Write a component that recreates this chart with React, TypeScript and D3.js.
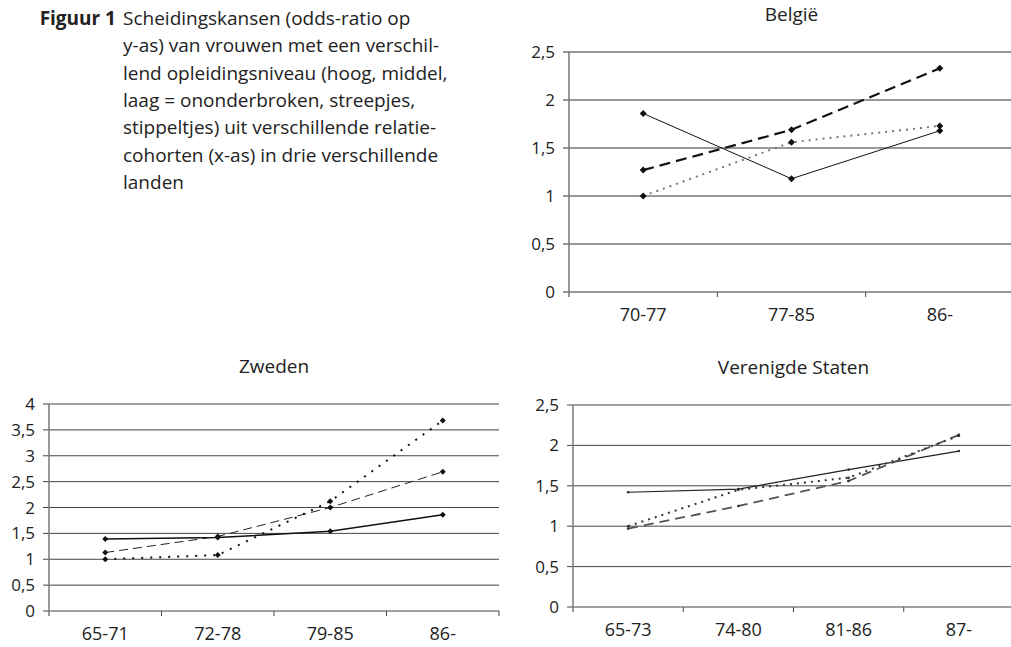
import React from 'react';
import * as d3 from 'd3';

// België
const belgieCats = ['70-77', '77-85', '86-'];
const belgieHoog = [1.86, 1.18, 1.68];
const belgieMiddel = [1.27, 1.69, 2.33];
const belgieLaag = [1.0, 1.56, 1.73];
const belgieTicks = [0, 0.5, 1, 1.5, 2, 2.5];

// Zweden
const zwedenCats = ['65-71', '72-78', '79-85', '86-'];
const zwedenHoog = [1.39, 1.42, 1.54, 1.86];
const zwedenMiddel = [1.13, 1.44, 2.0, 2.69];
const zwedenLaag = [1.0, 1.08, 2.12, 3.68];
const zwedenTicks = [0, 0.5, 1, 1.5, 2, 2.5, 3, 3.5, 4];

// Verenigde Staten
const vsCats = ['65-73', '74-80', '81-86', '87-'];
const vsHoog = [1.42, 1.46, 1.7, 1.93];
const vsMiddel = [0.97, 1.25, 1.56, 2.13];
const vsLaag = [1.0, 1.45, 1.6, 2.12];
const vsTicks = [0, 0.5, 1, 1.5, 2, 2.5];

const captionBold = 'Figuur 1';
const captionLines = [
  'Scheidingskansen (odds-ratio op',
  'y-as) van vrouwen met een verschil-',
  'lend opleidingsniveau (hoog, middel,',
  'laag = ononderbroken, streepjes,',
  'stippeltjes) uit verschillende relatie-',
  'cohorten (x-as) in drie verschillende',
  'landen',
];

const FONT = '"Open Sans", sans-serif';
const fmt = (v: number) => String(v).replace('.', ',');

type LineStyle = { stroke: string; width: number; dash?: string };

type PanelProps = {
  title: string;
  cats: string[];
  series: number[][];
  styles: LineStyle[];
  ticks: number[];
  x0: number;
  x1: number;
  y0: number;
  y1: number;
  gridEnd: number;
  marker: 'diamond' | 'dot';
  markerSize: number;
  gridColor: string;
};

const Panel = (p: PanelProps) => {
  const x = d3.scaleBand<string>().domain(p.cats).range([p.x0, p.x1]).padding(0);
  const y = d3.scaleLinear().domain([0, d3.max(p.ticks) as number]).range([p.y1, p.y0]);
  const line = d3
    .line<number>()
    .x((_, i) => (x(p.cats[i]) as number) + x.bandwidth() / 2)
    .y((d) => y(d));
  const cx = (p.x0 + p.x1) / 2;
  return (
    <g>
      <text x={cx} y={p.y0 - 31} textAnchor="middle" fontSize={19} fill="#222" fontFamily={FONT}>
        {p.title}
      </text>
      {p.ticks.map((t) => (
        <g key={t}>
          <line x1={p.x0 - 6} x2={p.gridEnd} y1={y(t)} y2={y(t)} stroke={p.gridColor} strokeWidth={1} />
          <text x={p.x0 - 14} y={y(t) + 6} textAnchor="end" fontSize={17} fill="#222" fontFamily={FONT}>
            {fmt(t)}
          </text>
        </g>
      ))}
      <line x1={p.x0} x2={p.x0} y1={p.y0} y2={p.y1 + 5} stroke="#777" strokeWidth={1.5} />
      {p.cats.map((c) => (
        <g key={c}>
          <line
            x1={(x(c) as number) + x.bandwidth()}
            x2={(x(c) as number) + x.bandwidth()}
            y1={p.y1}
            y2={p.y1 + 5}
            stroke="#444"
          />
          <text
            x={(x(c) as number) + x.bandwidth() / 2}
            y={p.y1 + 29}
            textAnchor="middle"
            fontSize={18}
            fill="#222"
            fontFamily={FONT}
          >
            {c}
          </text>
        </g>
      ))}
      {p.series.map((s, si) => (
        <g key={si}>
          <path
            d={line(s) as string}
            fill="none"
            stroke={p.styles[si].stroke}
            strokeWidth={p.styles[si].width}
            strokeDasharray={p.styles[si].dash}
          />
          {s.map((v, i) => {
            const px = (x(p.cats[i]) as number) + x.bandwidth() / 2;
            const py = y(v);
            const m = p.markerSize;
            return p.marker === 'diamond' ? (
              <path
                key={i}
                d={`M${px},${py - m}L${px + m},${py}L${px},${py + m}L${px - m},${py}Z`}
                fill="#111"
              />
            ) : (
              <circle key={i} cx={px} cy={py} r={m} fill="#333" />
            );
          })}
        </g>
      ))}
    </g>
  );
};

export default function App() {
  return (
    <svg
      width={1011}
      height={647}
      style={{ position: 'absolute', left: 0, top: 0, background: '#fff' }}
    >
      <text x={116} y={25} textAnchor="end" fontSize={19} fontWeight="bold" fill="#222" fontFamily={FONT}>
        {captionBold}
      </text>
      {captionLines.map((l, i) => (
        <text key={i} x={123} y={25 + i * 27.3} fontSize={19} fill="#222" fontFamily={FONT}>
          {l}
        </text>
      ))}
      <Panel
        title="België"
        cats={belgieCats}
        series={[belgieHoog, belgieMiddel, belgieLaag]}
        styles={[
          { stroke: '#111', width: 1 },
          { stroke: '#111', width: 2.2, dash: '11,6' },
          { stroke: '#777', width: 2, dash: '2,5' },
        ]}
        ticks={belgieTicks}
        x0={569}
        x1={1014}
        y0={52}
        y1={292}
        gridEnd={1011}
        marker="diamond"
        markerSize={3.5}
        gridColor="#333"
      />
      <Panel
        title="Zweden"
        cats={zwedenCats}
        series={[zwedenHoog, zwedenMiddel, zwedenLaag]}
        styles={[
          { stroke: '#111', width: 1.5 },
          { stroke: '#222', width: 1, dash: '9,5' },
          { stroke: '#111', width: 2, dash: '2,7' },
        ]}
        ticks={zwedenTicks}
        x0={49}
        x1={499}
        y0={404}
        y1={611}
        gridEnd={499}
        marker="diamond"
        markerSize={3}
        gridColor="#444"
      />
      <Panel
        title="Verenigde Staten"
        cats={vsCats}
        series={[vsHoog, vsMiddel, vsLaag]}
        styles={[
          { stroke: '#222', width: 1.2 },
          { stroke: '#555', width: 1.8, dash: '10,6' },
          { stroke: '#333', width: 2, dash: '2,5' },
        ]}
        ticks={vsTicks}
        x0={573}
        x1={1014}
        y0={405}
        y1={607}
        gridEnd={1011}
        marker="dot"
        markerSize={1.3}
        gridColor="#444"
      />
    </svg>
  );
}
